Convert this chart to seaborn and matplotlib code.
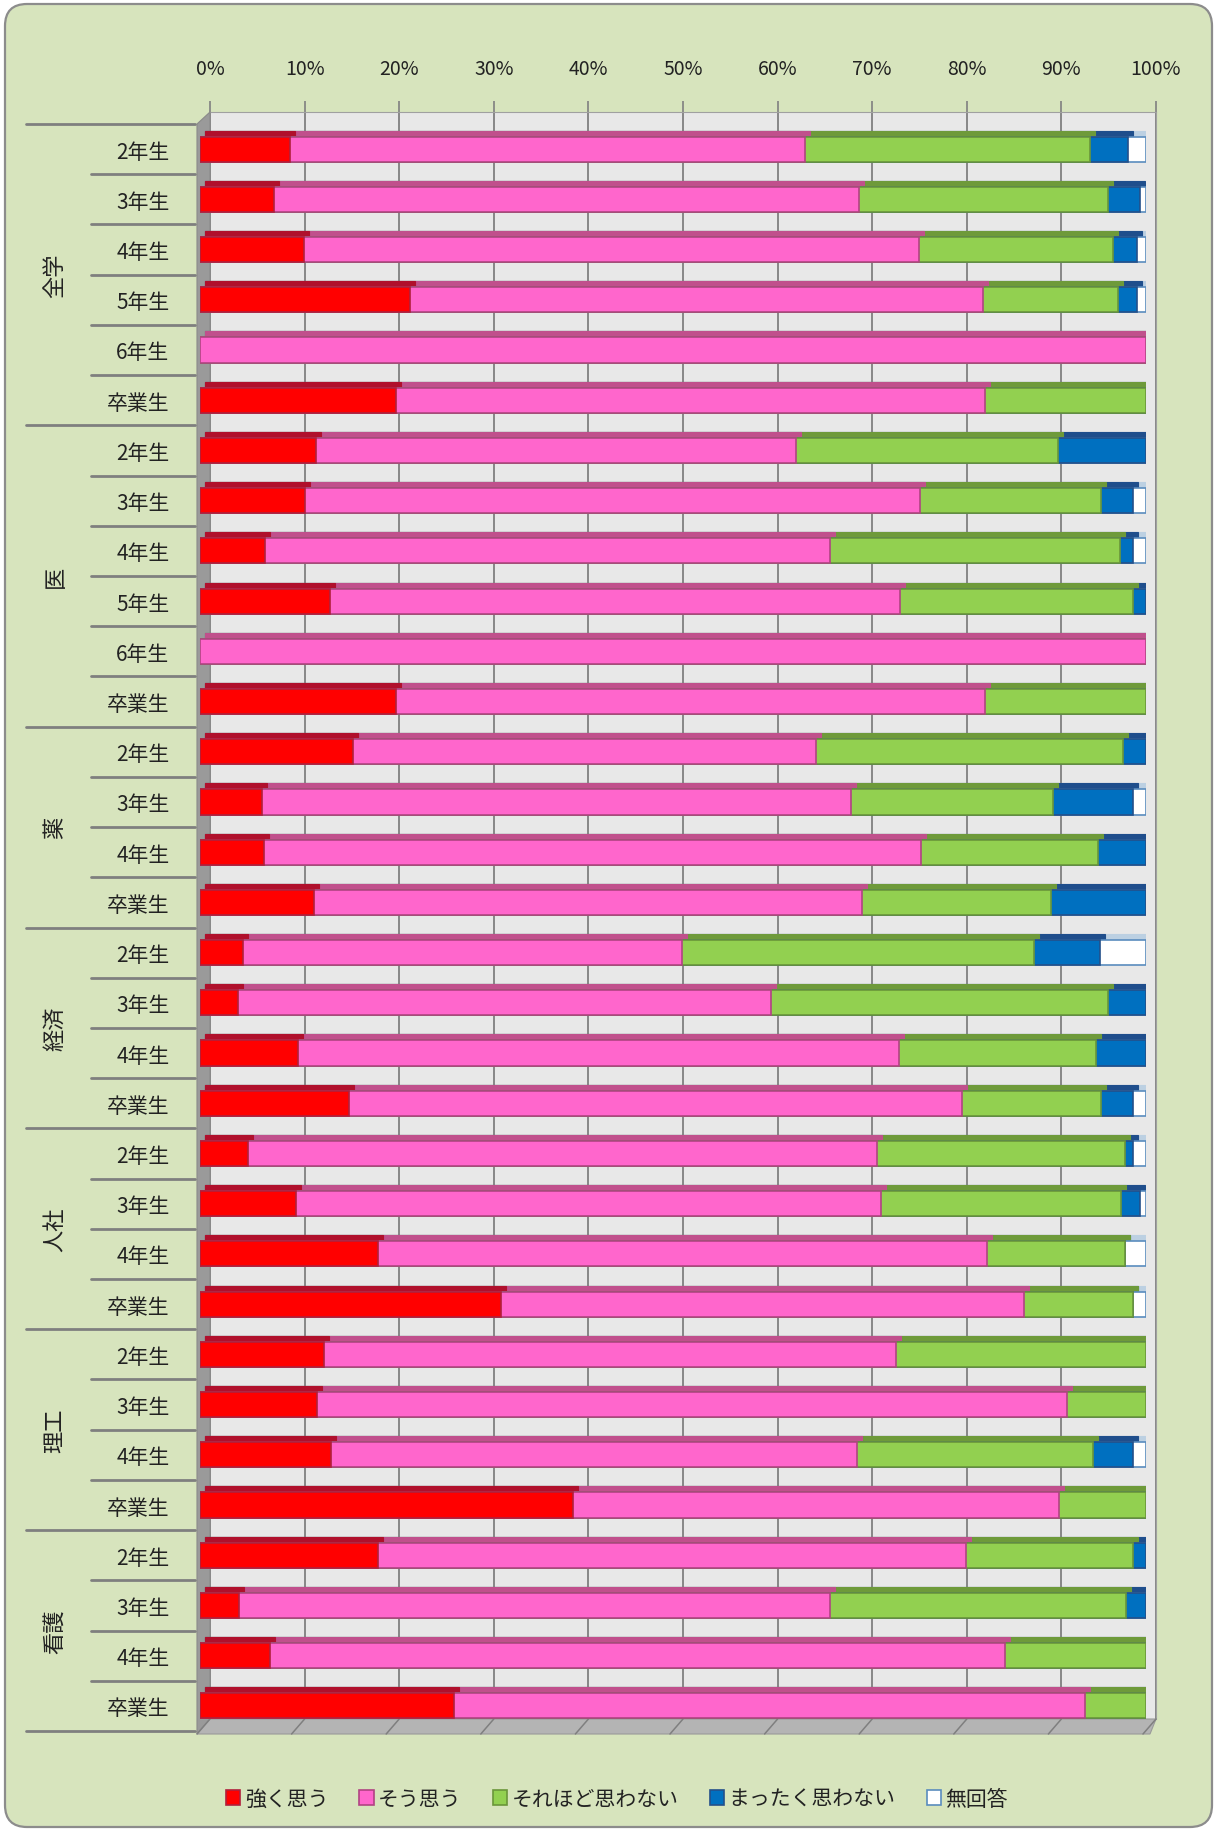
import matplotlib
matplotlib.use("Agg")
import matplotlib.pyplot as plt
import numpy as np
import pandas as pd
import seaborn as sns
from matplotlib.patches import FancyBboxPatch, Patch, Polygon
from matplotlib.transforms import IdentityTransform, ScaledTranslation, blended_transform_factory

# ---- data (percent of respondents) ----
GROUPS = ["全学", "医", "薬", "経済", "人社", "理工", "看護"]
GROUP_YEARS = [
    ["2年生", "3年生", "4年生", "5年生", "6年生", "卒業生"],
    ["2年生", "3年生", "4年生", "5年生", "6年生", "卒業生"],
    ["2年生", "3年生", "4年生", "卒業生"],
    ["2年生", "3年生", "4年生", "卒業生"],
    ["2年生", "3年生", "4年生", "卒業生"],
    ["2年生", "3年生", "4年生", "卒業生"],
    ["2年生", "3年生", "4年生", "卒業生"],
]
RESPONSES = ["強く思う", "そう思う", "それほど思わない", "まったく思わない", "無回答"]

strongly = [9.5, 7.8, 11.0, 22.2, 0.0, 20.7,
            12.3, 11.1, 6.9, 13.7, 0.0, 20.7,
            16.2, 6.6, 6.8, 12.1,
            4.5, 4.0, 10.4, 15.8,
            5.1, 10.2, 18.8, 31.8,
            13.1, 12.4, 13.9, 39.4,
            18.8, 4.1, 7.4, 26.9]
agree = [54.5, 61.9, 65.0, 60.6, 100.0, 62.3,
         50.7, 65.0, 59.7, 60.3, 100.0, 62.3,
         48.9, 62.2, 69.4, 57.9,
         46.5, 56.4, 63.5, 64.7,
         66.5, 61.8, 64.4, 55.3,
         60.5, 79.2, 55.6, 51.4,
         62.2, 62.5, 77.7, 66.7]
not_much = [30.1, 26.3, 20.5, 14.2, 0.0, 17.0,
            27.7, 19.1, 30.6, 24.6, 0.0, 17.0,
            32.5, 21.4, 18.7, 20.0,
            37.2, 35.6, 20.8, 14.7,
            26.2, 25.4, 14.6, 11.5,
            26.4, 8.4, 24.9, 9.2,
            17.6, 31.3, 14.9, 6.4]
not_at_all = [4.0, 3.4, 2.6, 2.1, 0.0, 0.0,
              9.3, 3.4, 1.4, 1.4, 0.0, 0.0,
              2.4, 8.4, 5.1, 10.0,
              6.9, 4.0, 5.3, 3.4,
              0.8, 2.0, 0.0, 0.0,
              0.0, 0.0, 4.2, 0.0,
              1.4, 2.1, 0.0, 0.0]
no_answer = [1.9, 0.6, 0.9, 0.9, 0.0, 0.0,
             0.0, 1.4, 1.4, 0.0, 0.0, 0.0,
             0.0, 1.4, 0.0, 0.0,
             4.9, 0.0, 0.0, 1.4,
             1.4, 0.6, 2.2, 1.4,
             0.0, 0.0, 1.4, 0.0,
             0.0, 0.0, 0.0, 0.0]

FACE = ["#FF0000", "#FF66CC", "#92D050", "#0070C0", "#FFFFFF"]
TOP = ["#B0102C", "#C0508C", "#6E9A3A", "#1F4E8C", "#BCD0E2"]
EDGE = ["#B0203C", "#B04482", "#6A963A", "#24508A", "#5A8CBE"]
BG = "#D7E4BD"

W, H = 1217, 1833

sns.set_style("white")
plt.rcParams["font.family"] = ["Noto Sans CJK JP", "DejaVu Sans"]

year_labels = [y for ys in GROUP_YEARS for y in ys]
row_ids = [f"{g}|{y}" for g, ys in zip(GROUPS, GROUP_YEARS) for y in ys]
n_rows = len(row_ids)

df = pd.DataFrame({
    "row": row_ids,
    RESPONSES[0]: strongly,
    RESPONSES[1]: agree,
    RESPONSES[2]: not_much,
    RESPONSES[3]: not_at_all,
    RESPONSES[4]: no_answer,
})
cum = df[RESPONSES].cumsum(axis=1)

fig = plt.figure(figsize=(W / 100, H / 100), dpi=100, facecolor="white")

# rounded chart-area background
fig.add_artist(FancyBboxPatch((5, 5), W - 10, H - 10,
                              boxstyle="round,pad=0,rounding_size=22",
                              transform=IdentityTransform(), facecolor=BG,
                              edgecolor="#8C8C8C", linewidth=1.6, zorder=-10))

# front (bars) axes and back wall axes shifted for the 3-D look
DX, DY = 10, 12
left, right, top, bottom = 200, 1146, 125, 1732
pos = [left / W, (H - bottom) / H, (right - left) / W, (bottom - top) / H]
ax_back = fig.add_axes([pos[0] + DX / W, pos[1] + DY / H, pos[2], pos[3]], zorder=0)
ax = fig.add_axes(pos, zorder=1)

ax_back.set_facecolor("#E8E8E8")
ax_back.set_xlim(0, 100)
ax_back.set_ylim(n_rows - 0.5, -0.5)
ax_back.set_xticks(range(0, 101, 10))
ax_back.set_xticklabels([f"{v}%" for v in range(0, 101, 10)])
ax_back.xaxis.tick_top()
ax_back.tick_params(axis="x", length=8, width=1.2, color="#808080", pad=16,
                    labelsize=14, labelcolor="#222222")
ax_back.set_yticks([])
ax_back.grid(axis="x", color="#7F7F7F", linewidth=1.3)
for side in ["left", "bottom"]:
    ax_back.spines[side].set_visible(False)
for side in ["top", "right"]:
    ax_back.spines[side].set_color("#A0A0A0")

# top faces (dark copies shifted up-right), then front faces
shift = ScaledTranslation(0.05, 0.06, fig.dpi_scale_trans)
for k in reversed(range(len(RESPONSES))):
    n0 = len(ax.patches)
    sns.barplot(x=cum[RESPONSES[k]], y=df["row"], order=row_ids, orient="y",
                color=TOP[k], saturation=1, width=0.5, errorbar=None,
                edgecolor=TOP[k], linewidth=0.8, ax=ax)
    for p in ax.patches[n0:]:
        p.set_transform(ax.transData + shift)
for k in reversed(range(len(RESPONSES))):
    sns.barplot(x=cum[RESPONSES[k]], y=df["row"], order=row_ids, orient="y",
                color=FACE[k], saturation=1, width=0.5, errorbar=None,
                edgecolor=EDGE[k], linewidth=1.2, ax=ax)
for p in ax.patches:
    if p.get_width() <= 0:
        p.set_visible(False)

ax.set_facecolor("none")
ax.set_xlim(0, 100)
ax.set_ylim(n_rows - 0.5, -0.5)
ax.set_xticks([])
ax.set_yticks(range(n_rows))
ax.set_yticklabels(year_labels)
ax.tick_params(axis="y", length=0, pad=22, labelsize=15, labelcolor="#222222")
ax.set_xlabel("")
ax.set_ylabel("")
for s in ax.spines.values():
    s.set_visible(False)

# left side wall and floor of the 3-D box
fig.canvas.draw()
inv = fig.transFigure.inverted()
fl, fb = ax.transAxes.transform((0, 0))
fr, ft = ax.transAxes.transform((1, 1))
bl, bb = ax_back.transAxes.transform((0, 0))
br, bt = ax_back.transAxes.transform((1, 1))
fig.add_artist(Polygon([(fl - 3, fb - 3), (fl - 3, ft), (bl, bt), (bl, bb)],
                       closed=True, transform=IdentityTransform(),
                       facecolor="#9A9A9A", edgecolor="#8A8A8A", lw=0.8, zorder=0.5))
fig.add_artist(Polygon([(fl - 3, fb - 3), (fr + 4, fb - 3), (br, bb), (bl, bb)],
                       closed=True, transform=IdentityTransform(),
                       facecolor="#B4B4B4", edgecolor="#9A9A9A", lw=0.8, zorder=0.5))
for v in range(0, 101, 10):
    xb, _ = ax_back.transData.transform((v, 0))
    xf, _ = ax.transData.transform((v, 0))
    fig.add_artist(plt.Line2D([xb, xf - 3], [bb, fb - 3], transform=IdentityTransform(),
                              color="#7F7F7F", lw=1.1, zorder=0.6))

# category separator lines and group labels
lab_tr = blended_transform_factory(fig.transFigure, ax.transData)
start = 0
bounds = [-0.5]
for g, ys in zip(GROUPS, GROUP_YEARS):
    n = len(ys)
    for i in range(1, n):
        ax.plot([91 / W, 195 / W], [start + i - 0.5] * 2, transform=lab_tr,
                color="#7F7F7F", lw=2, clip_on=False)
    ax.text(55 / W, start + (n - 1) / 2, g, transform=lab_tr, rotation=90,
            ha="center", va="center", fontsize=16, color="#222222")
    start += n
    bounds.append(start - 0.5)
for b in bounds:
    ax.plot([26 / W, 195 / W], [b, b], transform=lab_tr, color="#7F7F7F", lw=2,
            clip_on=False)

handles = [Patch(facecolor=FACE[k], edgecolor=EDGE[k], linewidth=1.2)
           for k in range(len(RESPONSES))]
fig.legend(handles, RESPONSES, loc="center", bbox_to_anchor=(0.507, 1 - 1800 / H),
           ncol=5, frameon=False, fontsize=15, handlelength=0.7, handleheight=0.7,
           handletextpad=0.2, columnspacing=1.5, labelcolor="#222222")

fig.savefig("out.png", dpi=100, facecolor=fig.get_facecolor())
plt.close(fig)
